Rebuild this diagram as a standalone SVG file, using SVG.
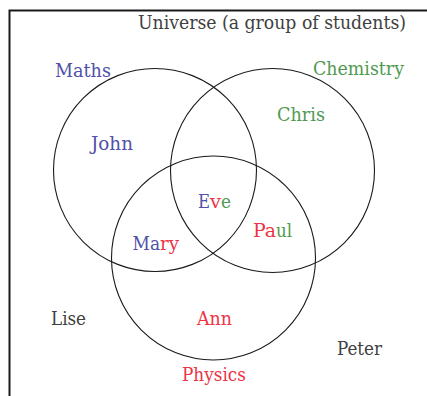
<svg xmlns="http://www.w3.org/2000/svg" width="427" height="396" viewBox="0 0 427 396">
<style>
text{font-family:"DejaVu Serif Condensed","DejaVu Serif",serif;font-stretch:condensed;font-size:19px;fill:#404040}
.b{fill:#5050a8}.r{fill:#ee3344}.g{fill:#4f9a4f}
.c{fill:none;stroke:#1a1a1a;stroke-width:1.1}
</style>
<rect width="427" height="396" fill="#fff"/>
<g id="frame"><path d="M9.5 396V10.5H427" fill="none" stroke="#1a1a1a" stroke-width="2"/></g>
<g id="maths"><circle class="c" cx="155" cy="170" r="101.5"/><text class="b" x="55" y="77" textLength="56" lengthAdjust="spacingAndGlyphs">Maths</text></g>
<g id="chemistry"><circle class="c" cx="272.5" cy="170.5" r="102"/><text class="g" x="313" y="75" textLength="91" lengthAdjust="spacingAndGlyphs">Chemistry</text></g>
<g id="physics"><circle class="c" cx="213.5" cy="258" r="102"/><text class="r" x="182" y="381" textLength="64" lengthAdjust="spacingAndGlyphs">Physics</text></g>
<g id="universe"><text x="138" y="29" textLength="268" lengthAdjust="spacingAndGlyphs">Universe (a group of students)</text></g>
<g id="john"><text class="b" x="91" y="150" textLength="42" lengthAdjust="spacingAndGlyphs">John</text></g>
<g id="chris"><text class="g" x="277" y="121" textLength="48" lengthAdjust="spacingAndGlyphs">Chris</text></g>
<g id="eve"><text y="208"><tspan class="b" x="198" textLength="12" lengthAdjust="spacingAndGlyphs">E</tspan><tspan class="r" x="210" textLength="11" lengthAdjust="spacingAndGlyphs">v</tspan><tspan class="g" x="221" textLength="10" lengthAdjust="spacingAndGlyphs">e</tspan></text></g>
<g id="paul"><text y="237"><tspan class="r" x="253" textLength="23" lengthAdjust="spacingAndGlyphs">Pa</tspan><tspan class="g" x="276" textLength="16" lengthAdjust="spacingAndGlyphs">ul</tspan></text></g>
<g id="mary"><text y="250"><tspan class="b" x="132.5" textLength="27.5" lengthAdjust="spacingAndGlyphs">Ma</tspan><tspan class="r" x="160" textLength="19" lengthAdjust="spacingAndGlyphs">ry</tspan></text></g>
<g id="lise"><text x="51" y="325" textLength="35" lengthAdjust="spacingAndGlyphs">Lise</text></g>
<g id="ann"><text class="r" x="197" y="325" textLength="35" lengthAdjust="spacingAndGlyphs">Ann</text></g>
<g id="peter"><text x="337" y="355" textLength="45" lengthAdjust="spacingAndGlyphs">Peter</text></g>
</svg>
